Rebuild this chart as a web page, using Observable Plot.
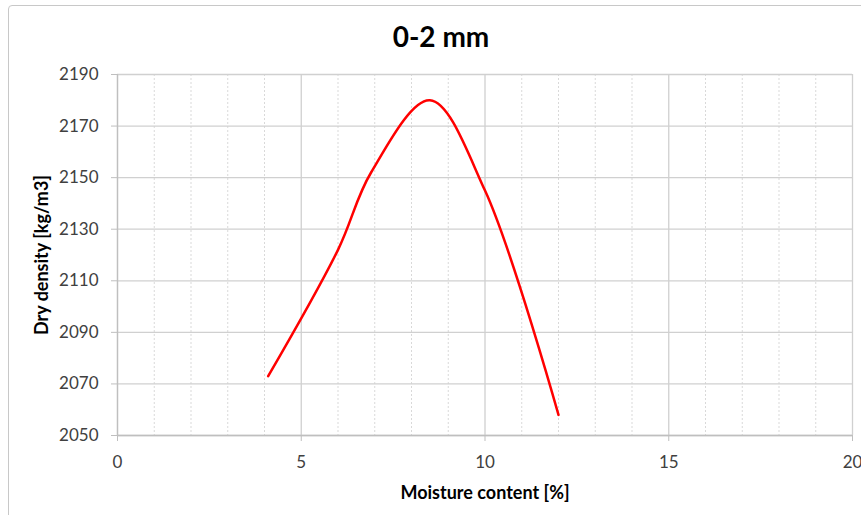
<!DOCTYPE html>
<html>
<head>
<meta charset="utf-8">
<script src="https://cdn.jsdelivr.net/npm/d3@7"></script>
<script src="https://cdn.jsdelivr.net/npm/@observablehq/plot@0.6"></script>
<style>
  html, body { margin: 0; padding: 0; background: #fff; }
  #wrap { position: relative; width: 861px; height: 515px; overflow: hidden; font-family: Lato, "Open Sans", sans-serif; }
  #frame { position: absolute; left: 8px; top: 5px; width: 900px; height: 600px; border: 1px solid #c8c8c8; border-radius: 4px; box-sizing: border-box; }
  #title { position: absolute; left: 8px; width: 866px; top: 19px; text-align: center; font-weight: bold; font-size: 28px; color: #000; }
  #chart { position: absolute; left: 0; top: 0; }
</style>
</head>
<body>
<div id="wrap">
  <div id="frame"></div>
  <div id="title">0-2 mm</div>
  <div id="chart"></div>
</div>
<script>
// Data
const moisture = [4.1, 6.0, 6.9, 8.5, 10.0, 12.0];
const density  = [2073, 2122, 2152, 2180, 2145, 2058];

// Axis ticks
const xTicks = [0, 5, 10, 15, 20];
const xMinor = [0, 1, 2, 3, 4, 5, 6, 7, 8, 9, 10, 11, 12, 13, 14, 15, 16, 17, 18, 19, 20];
const yTicks = [2050, 2070, 2090, 2110, 2130, 2150, 2170, 2190];

const pts = moisture.map((m, i) => ({ m, d: density[i] }));

const plot = Plot.plot({
  width: 861,
  height: 515,
  marginLeft: 117,
  marginRight: 9,
  marginTop: 74,
  marginBottom: 80,
  style: { fontFamily: "Lato, 'Open Sans', sans-serif", background: "transparent", overflow: "visible" },
  x: { domain: [0, 20], ticks: xTicks, label: null },
  y: { domain: [2050, 2190], ticks: yTicks, label: null },
  marks: [
    Plot.ruleX(xMinor.filter(v => v % 5 !== 0), { stroke: "#d9d9d9", strokeDasharray: "2,2", strokeWidth: 1 }),
    Plot.ruleY(yTicks, { stroke: "#d0d0d0", strokeWidth: 1.3 }),
    Plot.ruleX(xTicks, { stroke: "#d0d0d0", strokeWidth: 1.3 }),
    Plot.ruleX([0], { stroke: "#bfbfbf", strokeWidth: 1.3 }),
    Plot.ruleY([2050], { stroke: "#bfbfbf", strokeWidth: 1.3 }),
    Plot.axisY(yTicks, { tickSize: 6, tickPadding: 13, stroke: "#bfbfbf", fill: "#404040", fontSize: 17, label: null, tickFormat: d => String(d) }),
    Plot.axisX(xTicks, { tickSize: 6, tickPadding: 14, stroke: "#bfbfbf", fill: "#404040", fontSize: 17, label: null, tickFormat: d => String(d) }),
    Plot.axisY({ ticks: [], label: "Dry density [kg/m3]", labelAnchor: "center", labelOffset: 82, fontSize: 18, fontWeight: "bold", fill: "#000", labelArrow: "none" }),
    Plot.axisX({ ticks: [], label: "Moisture content [%]", labelAnchor: "center", labelOffset: 63, fontSize: 18, fontWeight: "bold", fill: "#000", labelArrow: "none" }),
    Plot.line(pts, { x: "m", y: "d", stroke: "#ff0000", strokeWidth: 2.5, curve: "catmull-rom" })
  ]
});
document.getElementById("chart").appendChild(plot);
</script>
</body>
</html>
